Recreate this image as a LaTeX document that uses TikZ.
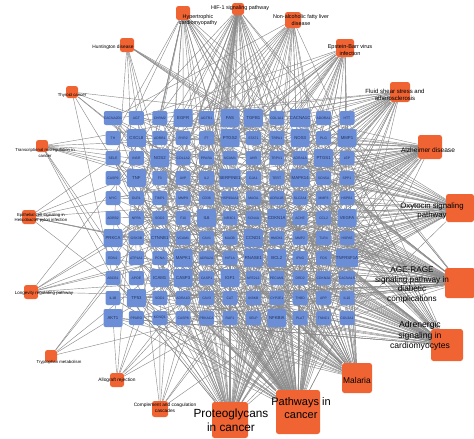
\documentclass[tikz,border=0pt]{standalone}
\usepackage{fontspec}
\setmainfont{Liberation Sans}
\usetikzlibrary{backgrounds}
\definecolor{GeneBlue}{HTML}{6B8ED6}
\definecolor{GeneInk}{HTML}{22305A}
\definecolor{TermOrange}{HTML}{F06434}
\definecolor{LinkGray}{HTML}{8A8A8A}
\tikzset{
  gene/.style={fill=GeneBlue,rounded corners=2pt,minimum width=15pt,minimum height=14pt,
               inner sep=0pt,text=GeneInk,font=\fontsize{3.4}{4}\selectfont},
  genebig/.style={gene,minimum width=19pt,minimum height=18pt,font=\fontsize{4.3}{5}\selectfont},
  termbox/.style={fill=TermOrange,rounded corners=2.5pt,inner sep=0pt},
  termlabel/.style={align=center,inner sep=0pt,text=black},
  link/.style={LinkGray,line width=0.42pt}
}
% name, position, size, text, font size, label xshift, label yshift
\newcommand{\termnode}[7]{%
  \node[termbox,minimum size=#3pt,
        label={[termlabel,font=\fontsize{#5}{\fpeval{1.2*#5}}\selectfont,xshift=#6pt,yshift=#7pt]center:#4}]
        (#1) at (#2) {};%
}

\begin{document}
\begin{tikzpicture}[x=1pt,y=-1pt]
  \useasboundingbox (0,0) rectangle (474,439);
  % gene grid, 11 x 11
  \foreach \lab/\st [count=\n] in {
      CACNA2D1/gene,AGT/gene,CHRM2/gene,EGFR/genebig,AGTR1/gene,FAS/genebig,TGFB1/genebig,COL1A1/gene,CACNA1C/genebig,ADORA1/gene,HTT/gene,
      TH/gene,CXCL8/genebig,ADRB1/gene,RYR2/gene,F7/gene,PTGS2/genebig,STAT1/gene,TRPA1/gene,NOS3/genebig,PLG/gene,MMP1/genebig,
      SELE/gene,INSR/gene,NOS2/genebig,COL1A2/gene,PPARA/gene,NCAM1/gene,AHR/gene,TRPV1/gene,ADRA1A/gene,PTGS1/genebig,LEP/gene,
      CASP9/gene,TNF/genebig,F3/gene,AVP/gene,IL2/gene,SERPINE1/genebig,GJA1/gene,TERT/gene,MAPK14/genebig,SCN5A/gene,SPP1/gene,
      MYC/gene,OLR1/gene,TIMP1/gene,MMP9/gene,CD36/gene,HSP90AA1/gene,MAOA/gene,ADRA1B/gene,SLC2A4/gene,MMP3/gene,HSPB1/gene,
      ADRB2/gene,NPPA/gene,SOD2/gene,F10/gene,IL6/genebig,NR3C1/gene,SCN4A/gene,CDKN1A/genebig,ACHE/gene,CCL2/gene,VEGFA/genebig,
      PRKCA/genebig,GSK3B/gene,CTNNB1/genebig,VCAM1/gene,CAV1/gene,MAOB/gene,CCND1/genebig,HMOX1/gene,MMP2/gene,TLR4/gene,HSPA5/gene,
      EDN1/gene,ATP1A1/gene,PCNA/gene,MAPK1/genebig,ADRA2A/gene,HIF1A/gene,RNASE1/genebig,BCL2/genebig,IFNG/gene,FOS/gene,TNFRSF1A/genebig,
      ABCB1/gene,APOE/gene,ICAM1/genebig,CASP3/genebig,CASP1/gene,IGF1/genebig,NFE2L2/gene,PECAM1/gene,DRD2/gene,CDKN2A/gene,CACNA1S/gene,
      IL1B/gene,TP53/genebig,SOD1/gene,ADRA1D/gene,CAV3/gene,CAT/gene,IKBKB/gene,CYP2E1/gene,THBD/gene,APP/gene,IL10/gene,
      AKT1/genebig,PPARG/gene,KCNQ1/gene,CASP8/gene,PRKACA/gene,RAF1/gene,SELP/gene,NFKBIA/genebig,PLAT/gene,TNNC1/gene,COL3A1/gene} {
    \pgfmathtruncatemacro\col{mod(\n-1,11)}
    \pgfmathtruncatemacro\row{(\n-1)/11}
    \node[\st] (g\n) at ({113+23.4*\col},{118+20*\row}) {\lab};
  }
  % pathway terms
  \termnode{hcm}{183,13}{14}{Hypertrophic\\cardiomyopathy}{5.4}{15}{-7}
  \termnode{hif}{238,9}{12}{HIF-1 signaling pathway}{5.4}{2}{1}
  \termnode{nafld}{293,20}{16}{Non-alcoholic fatty liver\\disease}{5.4}{8}{0}
  \termnode{ebv}{345,48}{18}{Epstein-Barr virus\\infection}{5.6}{5}{-2}
  \termnode{hd}{127,45}{14}{Huntington disease}{4.8}{-14}{-2}
  \termnode{thy}{72,92}{12}{Thyroid cancer}{4.3}{0}{-3}
  \termnode{fss}{400,92}{20}{Fluid shear stress and\\atherosclerosis}{6}{-5}{-3}
  \termnode{tmc}{42,146}{12}{Transcriptional misregulation in\\cancer}{4.3}{3}{-7}
  \termnode{ad}{430,147}{24}{Alzheimer disease}{6.6}{-2}{-3}
  \termnode{epi}{29,217}{14}{Epithelial cell signaling in\\Helicobacter pylori infection}{4.3}{12}{-1}
  \termnode{oxy}{460,208}{28}{Oxytocin signaling\\pathway}{7.8}{-28}{-3}
  \termnode{lrp}{31,292}{14}{Longevity regulating pathway}{4.5}{13}{-1}
  \termnode{age}{460,283}{30}{AGE-RAGE\\signaling pathway in\\diabetic\\complications}{8.2}{-48}{-2}
  \termnode{trp}{51,356}{12}{Tryptophan metabolism}{4.3}{8}{-6}
  \termnode{adr}{447,345}{32}{Adrenergic\\signaling in\\cardiomyocytes}{8.6}{-27}{9}
  \termnode{allo}{117,380}{14}{Allograft rejection}{4.8}{0}{0}
  \termnode{ccc}{160,409}{16}{Complement and coagulation\\cascades}{4.8}{5}{1}
  \termnode{pgc}{230,420}{36}{Proteoglycans\\in cancer}{11.8}{1}{0}
  \termnode{pic}{298,412}{44}{Pathways in\\cancer}{11}{3}{4}
  \termnode{mal}{357,378}{30}{Malaria}{8.4}{0}{-2}
  \begin{scope}[on background layer]
    \fill[white] (0,0) rectangle (474,439);
    \foreach \src/\a/\b in {pic/1/3,pic/4/10,pic/2/9,pgc/2/5,pgc/6/17,pgc/1/9,
        mal/1/6,mal/3/11,mal/5/14,adr/3/6,adr/7/20,adr/1/11,age/1/4,age/10/23,age/2/13,
        oxy/2/7,oxy/9/21,oxy/4/17,ad/5/9,ad/2/15,fss/1/7,fss/3/16,ebv/4/11,ebv/2/17,
        nafld/6/14,nafld/1/18,hif/2/6,hif/5/16,hcm/3/12,hcm/8/23,hd/7/19,thy/9/29,tmc/5/17,
        epi/8/23,lrp/10/24,trp/11/37,allo/13/27,ccc/15/29}
      \foreach \g in {\a,\b,...,121}
        \draw[link] (\src) -- (g\g);
  \end{scope}
\end{tikzpicture}
\end{document}
